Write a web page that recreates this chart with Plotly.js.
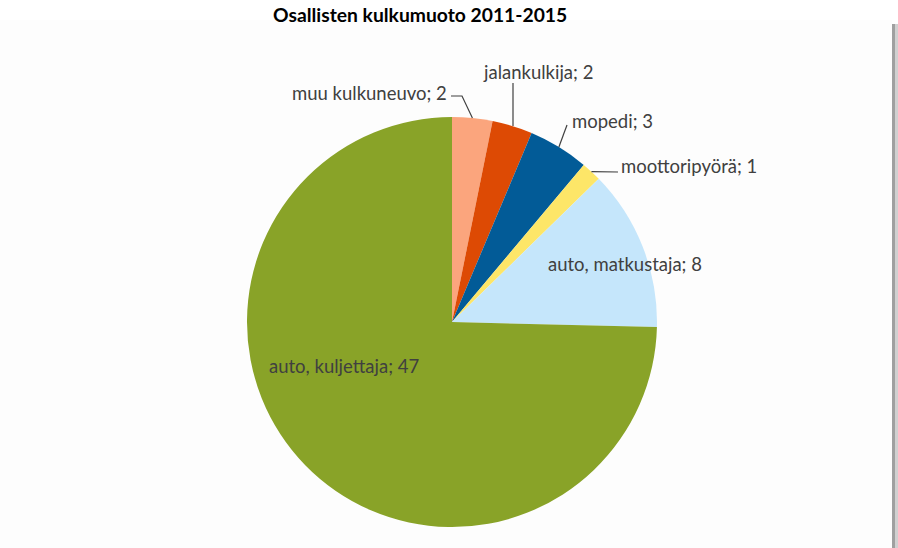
<!DOCTYPE html>
<html>
<head>
<meta charset="utf-8">
<script src="https://cdn.plot.ly/plotly-3.0.1.min.js"></script>
<style>
html,body{margin:0;padding:0;background:#ffffff;}
#chart{width:898px;height:548px;}
</style>
</head>
<body>
<div id="chart"></div>
<script>
// ---- data ----
const categories = ["muu kulkuneuvo", "jalankulkija", "mopedi", "moottoripyörä", "auto, matkustaja", "auto, kuljettaja"];
const values = [2, 2, 3, 1, 8, 47];
const colors = ["#FBA57D", "#DD4A04", "#025B97", "#FDE668", "#C5E6FB", "#89A328"];
const chartTitle = "Osallisten kulkumuoto 2011-2015";

// ---- layout (pixels) ----
const W = 898, H = 548;
const cx = 452, cy = 322, R = 205;
// label centres (px) and leader style per slice
const labelPos = [
  {x: 369, y: 93, leader: "elbow", lx: 451, ly: 96, kx: 462},
  {x: 538, y: 72, leader: "vertical", lx: 513, ly: 83},
  {x: 612, y: 121, leader: "straight", lx: 567, ly: 125},
  {x: 689, y: 166, leader: "straight", lx: 618, ly: 172},
  {x: 625, y: 264, leader: null},
  {x: 344, y: 366, leader: null}
];
const fontFam = "Lato, 'Open Sans', sans-serif";
const txtColor = "#404040";

const px = v => v / W;
const py = v => 1 - v / H;

const total = values.reduce((a, b) => a + b, 0);
let cum = 0;
const annotations = [];
const shapes = [];

// chart-area background & shadow
shapes.push({type: "rect", xref: "paper", yref: "paper", x0: 0, x1: px(892), y0: 0, y1: py(20),
  fillcolor: "#fdfdfd", line: {width: 0}, layer: "below"});
shapes.push({type: "rect", xref: "paper", yref: "paper", x0: px(892), x1: px(895), y0: 0, y1: py(24),
  fillcolor: "#a0a0a0", line: {width: 0}, layer: "below"});
shapes.push({type: "rect", xref: "paper", yref: "paper", x0: px(895), x1: px(898), y0: 0, y1: py(24),
  fillcolor: "#d0d0d0", line: {width: 0}, layer: "below"});

values.forEach((v, i) => {
  const mid = (cum + v / 2) / total * 2 * Math.PI;
  cum += v;
  const ex = cx + R * Math.sin(mid);
  const ey = cy - R * Math.cos(mid);
  const lp = labelPos[i];
  annotations.push({
    xref: "paper", yref: "paper", x: px(lp.x), y: py(lp.y),
    xanchor: "center", yanchor: "middle", showarrow: false,
    text: categories[i] + "; " + v,
    font: {family: fontFam, size: 18.5, color: txtColor}
  });
  if (lp.leader === "elbow") {
    shapes.push({type: "path", xref: "paper", yref: "paper",
      path: `M ${px(lp.lx)} ${py(lp.ly)} L ${px(lp.kx)} ${py(lp.ly)} L ${px(ex)} ${py(ey)}`,
      line: {color: "#404040", width: 1.2}});
  } else if (lp.leader === "vertical") {
    shapes.push({type: "line", xref: "paper", yref: "paper",
      x0: px(lp.lx), y0: py(lp.ly), x1: px(lp.lx), y1: py(ey),
      line: {color: "#404040", width: 1.2}});
  } else if (lp.leader === "straight") {
    shapes.push({type: "line", xref: "paper", yref: "paper",
      x0: px(lp.lx), y0: py(lp.ly), x1: px(ex), y1: py(ey),
      line: {color: "#404040", width: 1.2}});
  }
});

annotations.push({
  xref: "paper", yref: "paper", x: px(420), y: py(15), xanchor: "center", yanchor: "middle",
  showarrow: false, text: "<b>" + chartTitle + "</b>",
  font: {family: fontFam, size: 19.3, color: "#000000"}
});

const trace = {
  type: "pie",
  labels: categories,
  values: values,
  sort: false,
  direction: "clockwise",
  rotation: 0,
  marker: {colors: colors, line: {width: 0}},
  textinfo: "none",
  hoverinfo: "label+value",
  showlegend: false,
  domain: {x: [(cx - R) / W, (cx + R) / W], y: [(H - cy - R) / H, (H - cy + R) / H]}
};

const layout = {
  width: W, height: H,
  margin: {l: 0, r: 0, t: 0, b: 0},
  paper_bgcolor: "#ffffff",
  showlegend: false,
  annotations: annotations,
  shapes: shapes
};

Plotly.newPlot("chart", [trace], layout, {displayModeBar: false, staticPlot: true});
</script>
</body>
</html>
